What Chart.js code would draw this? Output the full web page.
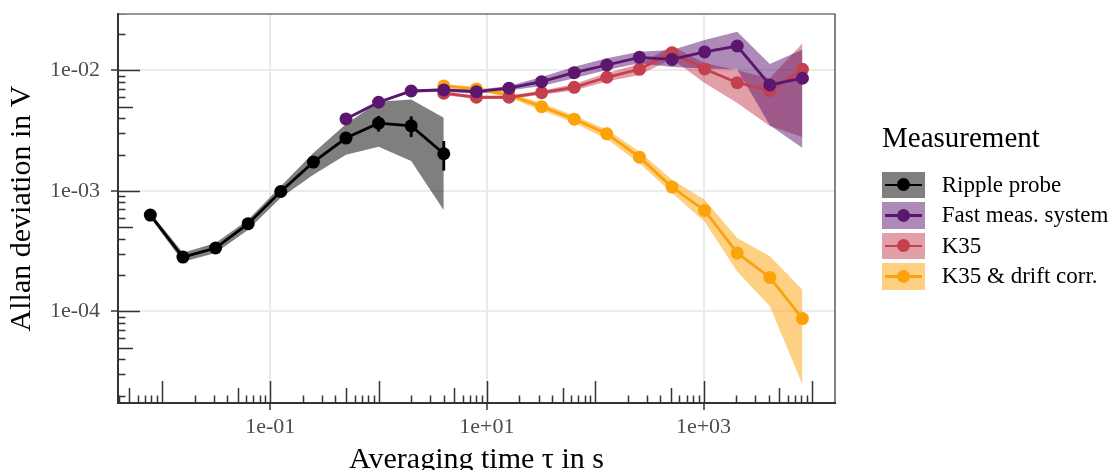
<!DOCTYPE html>
<html>
<head>
<meta charset="utf-8">
<script src="https://cdn.jsdelivr.net/npm/chart.js@4.4.1/dist/chart.umd.min.js"></script>
<style>
  body { margin: 0; background: #fff; }
  #wrap { position: relative; width: 1113px; height: 470px; font-family: 'Liberation Serif', 'Times New Roman', serif; }
  #legend { position: absolute; left: 882px; top: 123px; color: #000; }
  .legend-title { font-size: 29px; line-height: 29px; height: 29px; margin-bottom: 19.7px; white-space: nowrap; }
  .row { display: flex; align-items: center; height: 26.5px; margin-bottom: 4px; }
  .key { position: relative; width: 43px; height: 26.5px; margin-right: 16.7px; flex: none; }
  .key .ln { position: absolute; left: 3.3px; right: 3.3px; top: 11.9px; height: 2.8px; }
  .key .dot { position: absolute; left: 15px; top: 6.75px; width: 13px; height: 13px; border-radius: 50%; }
  .row span { font-size: 23px; line-height: 26.5px; white-space: nowrap; }
</style>
</head>
<body>
<div id="wrap">
  <canvas id="adev" width="1113" height="470"></canvas>
  <div id="legend"></div>
</div>
<script>
// averaging times (s) and Allan deviations (V) per measurement
const tauRipple = [0.0078125, 0.015625, 0.03125, 0.0625, 0.125, 0.25, 0.5, 1, 2, 4];
const adevRipple = [6.29e-4, 2.82e-4, 3.35e-4, 5.33e-4, 9.87e-4, 1.73e-3, 2.74e-3, 3.64e-3, 3.46e-3, 2.03e-3];
const rippleLow = [6.0e-4, 2.58e-4, 3.05e-4, 4.75e-4, 8.75e-4, 1.36e-3, 1.99e-3, 2.32e-3, 1.77e-3, 6.89e-4];
const rippleHigh = [6.6e-4, 3.06e-4, 3.69e-4, 5.75e-4, 1.09e-3, 2.06e-3, 3.59e-3, 5.49e-3, 5.73e-3, 4.03e-3];
const rippleErrLow = [6.1e-4, 2.75e-4, 3.27e-4, 5.2e-4, 9.6e-4, 1.66e-3, 2.55e-3, 3.10e-3, 2.79e-3, 1.47e-3];
const rippleErrHigh = [6.5e-4, 2.89e-4, 3.43e-4, 5.46e-4, 1.015e-3, 1.80e-3, 2.95e-3, 4.18e-3, 4.14e-3, 2.59e-3];

const tauFast = [0.5, 1, 2, 4, 8, 16, 32, 64, 128, 256, 512, 1024, 2048, 4096, 8192];
const adevFast = [3.95e-3, 5.43e-3, 6.73e-3, 6.87e-3, 6.65e-3, 7.10e-3, 8.05e-3, 9.55e-3, 1.106e-2, 1.28e-2, 1.23e-2, 1.42e-2, 1.59e-2, 7.55e-3, 8.59e-3];
const fastLow = [3.85e-3, 5.30e-3, 6.55e-3, 6.65e-3, 6.40e-3, 6.80e-3, 7.41e-3, 8.59e-3, 1.006e-2, 1.143e-2, 1.064e-2, 1.035e-2, 1.016e-2, 3.5e-3, 2.26e-3];
const fastHigh = [4.05e-3, 5.56e-3, 6.91e-3, 7.10e-3, 6.90e-3, 7.40e-3, 8.80e-3, 1.071e-2, 1.257e-2, 1.426e-2, 1.472e-2, 1.78e-2, 2.09e-2, 1.127e-2, 1.485e-2];

const tauK35 = [4, 8, 16, 32, 64, 128, 256, 512, 1024, 2048, 4096, 8192];
const adevK35 = [6.45e-3, 5.97e-3, 5.97e-3, 6.52e-3, 7.22e-3, 8.75e-3, 1.019e-2, 1.40e-2, 1.026e-2, 7.89e-3, 6.78e-3, 1.019e-2];
const k35Low = [6.25e-3, 5.78e-3, 5.78e-3, 6.28e-3, 6.81e-3, 8.07e-3, 9.14e-3, 1.24e-2, 7.85e-3, 5.35e-3, 3.45e-3, 2.8e-3];
const k35High = [6.66e-3, 6.17e-3, 6.17e-3, 6.77e-3, 7.70e-3, 9.50e-3, 1.127e-2, 1.59e-2, 1.15e-2, 1.0e-2, 8.6e-3, 1.68e-2];

const adevDrift = [7.41e-3, 7.00e-3, 6.24e-3, 4.99e-3, 3.93e-3, 2.97e-3, 1.90e-3, 1.073e-3, 6.87e-4, 3.05e-4, 1.91e-4, 8.7e-5];
const driftLow = [7.15e-3, 6.75e-3, 5.95e-3, 4.64e-3, 3.66e-3, 2.69e-3, 1.69e-3, 9.57e-4, 5.53e-4, 2.14e-4, 1.10e-4, 2.47e-5];
const driftHigh = [7.68e-3, 7.25e-3, 6.52e-3, 5.35e-3, 4.22e-3, 3.23e-3, 2.12e-3, 1.233e-3, 8.41e-4, 4.05e-4, 2.86e-4, 1.51e-4];

const xTickValues = [0.1, 10, 1000];
const xTickLabels = ['1e-01', '1e+01', '1e+03'];
const yTickValues = [1e-4, 1e-3, 1e-2];
const yTickLabels = ['1e-04', '1e-03', '1e-02'];

const font = "'Liberation Serif', 'Times New Roman', serif";
const series = [
  { label: 'Ripple probe', color: '#000000', fill: 'rgba(0,0,0,0.5)', tau: tauRipple, adev: adevRipple, lo: rippleLow, hi: rippleHigh, order: 1 },
  { label: 'Fast meas. system', color: '#5B166F', fill: 'rgba(91,22,111,0.5)', tau: tauFast, adev: adevFast, lo: fastLow, hi: fastHigh, order: 2 },
  { label: 'K35', color: '#C5404F', fill: 'rgba(197,64,79,0.5)', tau: tauK35, adev: adevK35, lo: k35Low, hi: k35High, order: 3 },
  { label: 'K35 & drift corr.', color: '#FCA20A', fill: 'rgba(252,162,10,0.5)', tau: tauK35, adev: adevDrift, lo: driftLow, hi: driftHigh, order: 4 }
];

const pts = (xs, ys) => xs.map((x, i) => ({ x, y: ys[i] }));

// ribbons first (drawn underneath), then lines with points
const datasets = [];
series.forEach(s => {
  datasets.push({ data: pts(s.tau, s.hi), borderWidth: 0, borderColor: 'transparent', pointRadius: 0, fill: '+1', backgroundColor: s.fill, order: 10 });
  datasets.push({ data: pts(s.tau, s.lo), borderWidth: 0, borderColor: 'transparent', pointRadius: 0, fill: false, order: 10 });
});
series.forEach(s => {
  datasets.push({
    label: s.label, data: pts(s.tau, s.adev),
    borderColor: s.color, backgroundColor: s.color, borderWidth: 2.8,
    pointRadius: 6.5, pointHoverRadius: 6.5, pointBorderWidth: 0,
    fill: false, tension: 0, order: s.order
  });
});

// ggplot-style log ticks along the inside of the bottom and left axes
const logTicks = {
  id: 'logTicks',
  beforeDatasetsDraw(chart) {
    const { ctx, chartArea: a, scales: { x, y } } = chart;
    ctx.save();
    ctx.beginPath();
    ctx.rect(a.left, a.top, a.right - a.left, a.bottom - a.top);
    ctx.clip();
    ctx.strokeStyle = '#333333';
    ctx.lineWidth = 1.5;
    const len = m => (m === 1 ? 22 : m === 5 ? 15 : 7.5);
    ctx.beginPath();
    for (let e = -3; e <= 4; e++) {
      for (let m = 1; m <= 9; m++) {
        const px = Math.round(x.getPixelForValue(m * Math.pow(10, e))) + 0.5;
        ctx.moveTo(px, a.bottom);
        ctx.lineTo(px, a.bottom - len(m));
      }
    }
    for (let e = -5; e <= -1; e++) {
      for (let m = 1; m <= 9; m++) {
        const py = Math.round(y.getPixelForValue(m * Math.pow(10, e))) + 0.5;
        ctx.moveTo(a.left, py);
        ctx.lineTo(a.left + len(m), py);
      }
    }
    ctx.stroke();
    ctx.restore();
  }
};

// vertical error bars on the ripple probe points, plus the top/right panel frame
const errorBars = {
  id: 'errorBars',
  afterDatasetsDraw(chart) {
    const { ctx, chartArea: a, scales: { x, y } } = chart;
    ctx.save();
    ctx.strokeStyle = '#000000';
    ctx.lineWidth = 2.8;
    tauRipple.forEach((t, i) => {
      const px = x.getPixelForValue(t);
      ctx.beginPath();
      ctx.moveTo(px, y.getPixelForValue(rippleErrLow[i]));
      ctx.lineTo(px, y.getPixelForValue(rippleErrHigh[i]));
      ctx.stroke();
    });
    ctx.strokeStyle = '#333333';
    ctx.lineWidth = 1.2;
    ctx.beginPath();
    ctx.moveTo(a.left, a.top);
    ctx.lineTo(a.right, a.top);
    ctx.lineTo(a.right, a.bottom);
    ctx.stroke();
    ctx.restore();
  }
};

new Chart(document.getElementById('adev'), {
  type: 'line',
  data: { datasets },
  options: {
    responsive: false,
    animation: false,
    events: [],
    layout: { padding: { left: 0, right: 278, top: 14, bottom: 0 } },
    plugins: { legend: { display: false }, tooltip: { enabled: false } },
    scales: {
      x: {
        type: 'logarithmic', min: 0.003928, max: 16370, bounds: 'data',
        afterBuildTicks: s => { s.ticks = xTickValues.map(value => ({ value })); },
        afterFit: s => { s.height = 67; s.paddingLeft = 0; s.paddingRight = 0; },
        grid: { color: '#EBEBEB', lineWidth: 2, tickLength: 7, tickColor: '#333333', tickWidth: 1.5 },
        border: { display: true, color: '#333333', width: 2 },
        ticks: { callback: (v, i) => xTickLabels[i], color: '#4D4D4D', font: { family: font, size: 22 }, padding: 4, maxRotation: 0, autoSkip: false },
        title: { display: true, text: 'Averaging time τ in s', color: '#000000', font: { family: font, size: 30, lineHeight: 1 }, padding: { top: 0, bottom: -5 } }
      },
      y: {
        type: 'logarithmic', min: 1.734e-5, max: 0.02931, bounds: 'data',
        afterBuildTicks: s => { s.ticks = yTickValues.map(value => ({ value })); },
        afterFit: s => { s.width = 118; s.paddingTop = 0; s.paddingBottom = 0; },
        grid: { color: '#EBEBEB', lineWidth: 2, tickLength: 7, tickColor: '#333333', tickWidth: 1.5 },
        border: { display: true, color: '#333333', width: 2 },
        ticks: { callback: (v, i) => yTickLabels[i], color: '#4D4D4D', font: { family: font, size: 22 }, padding: 11, autoSkip: false },
        title: { display: true, text: 'Allan deviation in V', color: '#000000', font: { family: font, size: 30, lineHeight: 1 }, padding: { top: 7, bottom: 0 } }
      }
    }
  },
  plugins: [logTicks, errorBars]
});

// legend: ribbon box with line and point, one row per measurement
const legend = document.getElementById('legend');
legend.innerHTML = '<div class="legend-title">Measurement</div>';
series.forEach(s => {
  const row = document.createElement('div');
  row.className = 'row';
  row.innerHTML = `<div class="key" style="background:${s.fill}"><div class="ln" style="background:${s.color}"></div><div class="dot" style="background:${s.color}"></div></div><span></span>`;
  row.querySelector('span').textContent = s.label;
  legend.appendChild(row);
});
</script>
</body>
</html>
